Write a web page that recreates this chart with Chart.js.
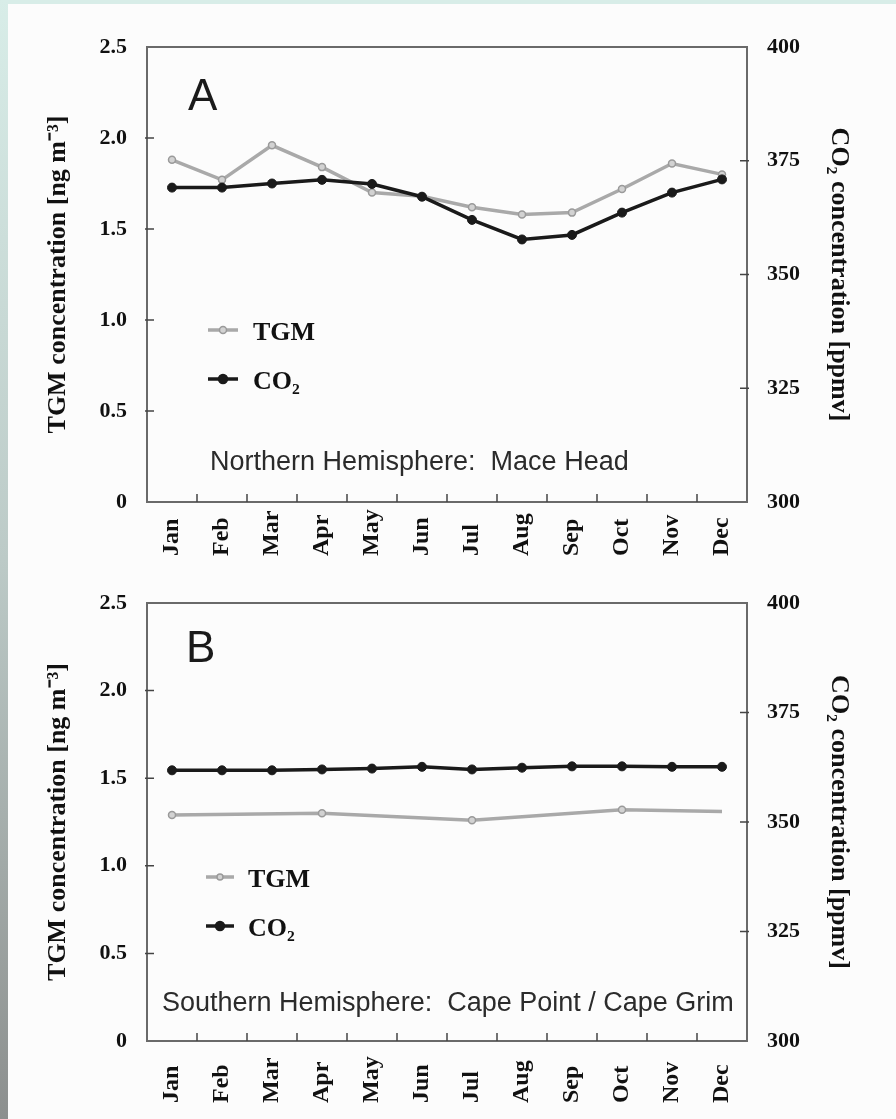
<!DOCTYPE html>
<html>
<head>
<meta charset="utf-8">
<title>TGM and CO2 seasonal cycles</title>
<script src="https://cdn.jsdelivr.net/npm/chart.js@4.4.0/dist/chart.umd.min.js"></script>
<style>
  html, body { margin: 0; padding: 0; }
  body { width: 896px; height: 1119px; position: relative; overflow: hidden; background: #fcfcfc; }
  .edge-top { position: absolute; left: 0; top: 0; width: 896px; height: 4px; background: #d8ede8; }
  .edge-left { position: absolute; left: 0; top: 0; width: 8px; height: 1119px;
    background: linear-gradient(#d8ede8, #bccac7 50%, #8c8f8e); }
  canvas { position: absolute; left: 0; }
  #chartA { top: 0; }
  #chartB { top: 560px; }
</style>
</head>
<body>
<div class="edge-top"></div>
<div class="edge-left"></div>
<canvas id="chartA" width="896" height="560"></canvas>
<canvas id="chartB" width="896" height="559"></canvas>
<script>
const months = ['Jan', 'Feb', 'Mar', 'Apr', 'May', 'Jun', 'Jul', 'Aug', 'Sep', 'Oct', 'Nov', 'Dec'];

// Northern Hemisphere: Mace Head
const tgmNorth = [1.88, 1.77, 1.96, 1.84, 1.70, 1.68, 1.62, 1.58, 1.59, 1.72, 1.86, 1.80];
const co2North = [369.1, 369.1, 370.0, 370.8, 369.9, 367.1, 362.0, 357.7, 358.7, 363.6, 368.0, 370.9];

// Southern Hemisphere: Cape Point / Cape Grim (TGM only reported every third month)
const tgmSouth = [1.29, null, null, 1.30, null, null, 1.26, null, null, 1.32, null, 1.31];
const co2South = [361.8, 361.8, 361.8, 362.0, 362.2, 362.6, 362.0, 362.4, 362.7, 362.7, 362.6, 362.6];

const tgmTicks = [0, 0.5, 1.0, 1.5, 2.0, 2.5];
const co2Ticks = [300, 325, 350, 375, 400];

Chart.defaults.font.family = '"Liberation Serif", "Times New Roman", serif';
Chart.defaults.color = '#111';

const serifBold = (size) => ({ family: '"Liberation Serif", "Times New Roman", serif', size: size, weight: 'bold', lineHeight: 1.2 });

// frame, inward ticks, rotated month labels, panel letter, legend and site note
const panelPlugin = {
  id: 'panel',
  afterDraw(chart, args, opts) {
    const { ctx, chartArea: a, scales } = chart;
    const x = scales.x, yL = scales.yL, yR = scales.yR;
    ctx.save();

    ctx.strokeStyle = '#6a6a6a';
    ctx.lineWidth = 2;
    ctx.strokeRect(a.left, a.top, a.right - a.left, a.bottom - a.top);

    ctx.strokeStyle = '#444';
    ctx.lineWidth = 1.5;
    ctx.beginPath();
    yL.ticks.forEach(t => {
      const py = yL.getPixelForValue(t.value);
      if (py > a.top + 2 && py < a.bottom - 2) { ctx.moveTo(a.left - 2, py); ctx.lineTo(a.left + 7, py); }
    });
    yR.ticks.forEach(t => {
      const py = yR.getPixelForValue(t.value);
      if (py > a.top + 2 && py < a.bottom - 2) { ctx.moveTo(a.right + 2, py); ctx.lineTo(a.right - 7, py); }
    });
    for (let i = 0; i < months.length - 1; i++) {
      const px = (x.getPixelForTick(i) + x.getPixelForTick(i + 1)) / 2;
      ctx.moveTo(px, a.bottom);
      ctx.lineTo(px, a.bottom - 8);
    }
    ctx.stroke();

    // month labels, read bottom to top, starts aligned
    ctx.fillStyle = '#111';
    ctx.font = 'bold 24px "Liberation Serif"';
    ctx.textAlign = 'left';
    ctx.textBaseline = 'middle';
    months.forEach((m, i) => {
      ctx.save();
      ctx.translate(x.getPixelForTick(i), a.bottom + opts.labelDrop);
      ctx.rotate(-Math.PI / 2);
      ctx.fillText(m, 0, 0);
      ctx.restore();
    });

    // panel letter
    ctx.textBaseline = 'alphabetic';
    ctx.fillStyle = '#1a1a1a';
    ctx.font = '44px "Liberation Sans"';
    ctx.fillText(opts.letter, a.left + opts.letterAt[0], a.top + opts.letterAt[1]);

    // site note
    ctx.fillStyle = '#2b2b2b';
    ctx.font = '27px "Liberation Sans"';
    ctx.fillText(opts.note, a.left + opts.noteAt[0], a.top + opts.noteAt[1]);

    // legend
    const lg = opts.legend;
    chart.data.datasets.forEach((ds, i) => {
      const y = a.top + lg.rows[i];
      const x0 = a.left + lg.x0, x1 = a.left + lg.x1;
      ctx.strokeStyle = ds.borderColor;
      ctx.lineWidth = ds.borderWidth;
      ctx.beginPath();
      ctx.moveTo(x0, y);
      ctx.lineTo(x1, y);
      ctx.stroke();
      ctx.beginPath();
      ctx.arc((x0 + x1) / 2, y, lg.radius[i], 0, Math.PI * 2);
      ctx.fillStyle = ds.pointBackgroundColor;
      ctx.fill();
      ctx.lineWidth = 1.5;
      ctx.strokeStyle = ds.pointBorderColor;
      ctx.stroke();
      ctx.fillStyle = '#111';
      ctx.font = 'bold 26px "Liberation Serif"';
      ctx.textBaseline = 'middle';
      ctx.fillText(ds.label, a.left + lg.tx, y + 3);
    });

    ctx.restore();
  }
};

function makeChart(id, tgm, co2, panel, box) {
  return new Chart(document.getElementById(id), {
    type: 'line',
    data: {
      labels: months,
      datasets: [{
        label: 'TGM',
        data: tgm,
        yAxisID: 'yL',
        borderColor: '#a9a9a9',
        borderWidth: 3.5,
        pointRadius: panel.tgmRadius,
        pointBackgroundColor: '#d2d2d2',
        pointBorderColor: '#9a9a9a',
        pointBorderWidth: 1.5,
        spanGaps: true,
        tension: 0,
        order: 2
      }, {
        label: 'CO\u2082',
        data: co2,
        yAxisID: 'yR',
        borderColor: '#1a1a1a',
        borderWidth: 3.5,
        pointRadius: 4.5,
        pointBackgroundColor: '#1a1a1a',
        pointBorderColor: '#1a1a1a',
        pointBorderWidth: 1,
        tension: 0,
        order: 1
      }]
    },
    options: {
      responsive: false,
      animation: false,
      layout: { padding: { top: box.top, left: 10, right: 0, bottom: 0 } },
      plugins: {
        legend: { display: false },
        tooltip: { enabled: false },
        panel: panel
      },
      scales: {
        x: {
          type: 'category',
          offset: true,
          grid: { display: false, drawTicks: false },
          border: { display: false },
          ticks: { display: false },
          afterFit: s => { s.height = box.xHeight; }
        },
        yL: {
          position: 'left',
          min: 0,
          max: 2.5,
          afterBuildTicks: s => { s.ticks = tgmTicks.map(v => ({ value: v })); },
          grid: { display: false, drawTicks: false },
          border: { display: false },
          ticks: {
            padding: 20,
            font: serifBold(22),
            color: '#111',
            callback: v => v === 0 ? '0' : v.toFixed(1)
          },
          title: {
            display: true,
            text: 'TGM concentration [ng m\u207B\u00B3]',
            font: serifBold(26),
            color: '#111',
            padding: { top: 33, bottom: 0 }
          },
          afterFit: s => { s.width = 137; }
        },
        yR: {
          position: 'right',
          min: 300,
          max: 400,
          afterBuildTicks: s => { s.ticks = co2Ticks.map(v => ({ value: v })); },
          grid: { display: false, drawTicks: false },
          border: { display: false },
          ticks: {
            padding: 20,
            font: serifBold(22),
            color: '#111',
            callback: v => String(v)
          },
          title: {
            display: true,
            text: 'CO\u2082 concentration [ppmv]',
            font: serifBold(26),
            color: '#111',
            padding: { top: 42, bottom: 0 }
          },
          afterFit: s => { s.width = 149; }
        }
      }
    },
    plugins: [panelPlugin]
  });
}

makeChart('chartA', tgmNorth, co2North, {
  letter: 'A',
  letterAt: [41, 63],
  note: 'Northern Hemisphere:  Mace Head',
  noteAt: [63, 423],
  labelDrop: 54,
  tgmRadius: 3.5,
  legend: { x0: 61, x1: 91, tx: 106, rows: [283, 332], radius: [3.5, 4.5] }
}, { top: 47, xHeight: 58 });

makeChart('chartB', tgmSouth, co2South, {
  letter: 'B',
  letterAt: [39, 59],
  note: 'Southern Hemisphere:  Cape Point / Cape Grim',
  noteAt: [15, 408],
  labelDrop: 62,
  tgmRadius: ctx => ctx.dataIndex === months.length - 1 ? 0 : 3.5,
  legend: { x0: 59, x1: 87, tx: 101, rows: [274, 323], radius: [3, 4.5] }
}, { top: 43, xHeight: 78 });
</script>
</body>
</html>
